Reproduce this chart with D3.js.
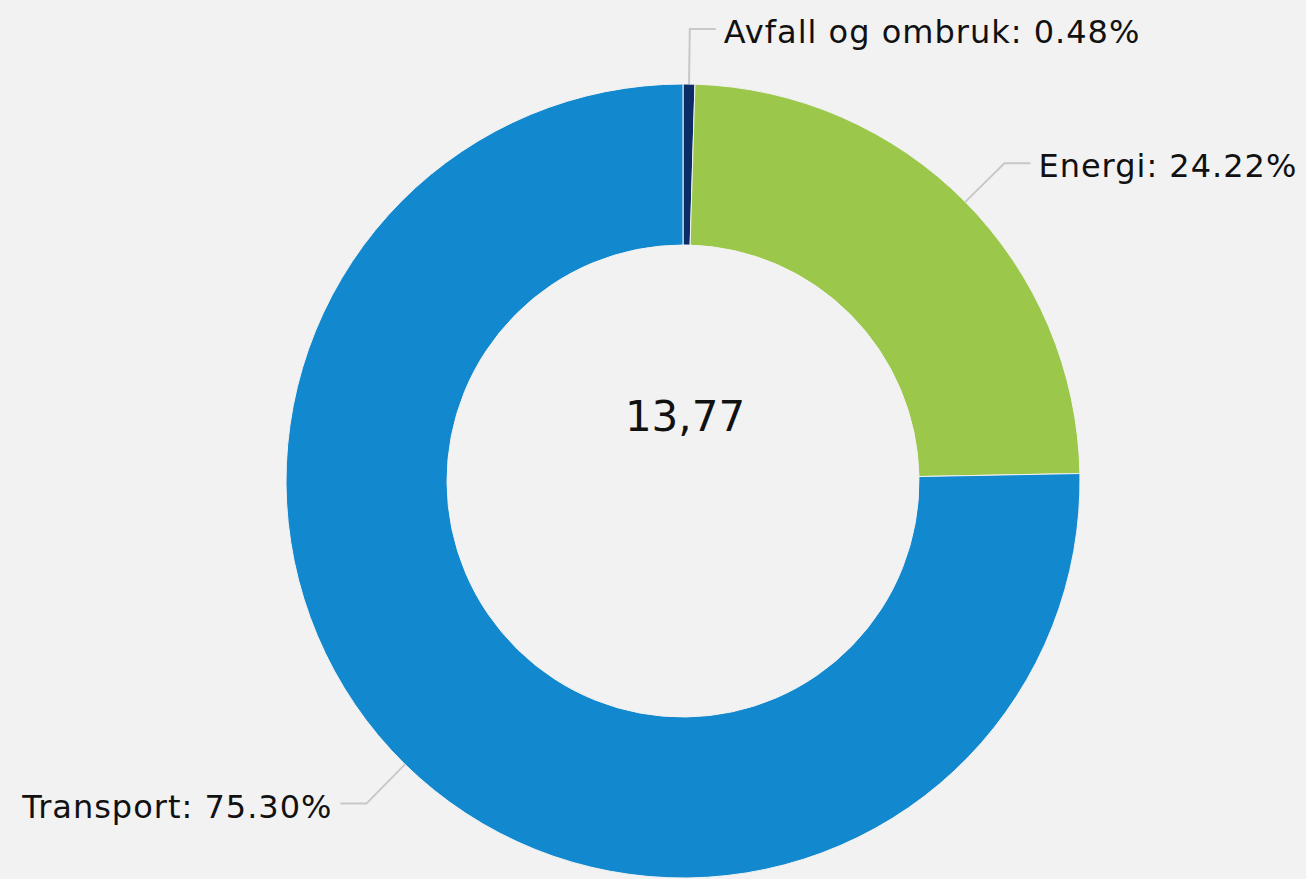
<!DOCTYPE html>
<html>
<head>
<meta charset="utf-8">
<script src="https://cdn.jsdelivr.net/npm/d3@7"></script>
<style>
  html, body { margin: 0; padding: 0; background: #f2f2f2; }
  svg { display: block; }
</style>
</head>
<body>
<script>
// data
const categories = ["Avfall og ombruk", "Energi", "Transport"];
const shares = [0.48, 24.22, 75.30];
const colors = ["#0c2c68", "#9bc84a", "#1289cf"];
const centerLabel = "13,77";

function main(){
    var width = 1306;
    var height = 879;

    const cx = 683, cy = 481;
    const outerR = 397, innerR = 236;
    const elbowR = 452;

    let svg = d3.select("body")
        .append("svg")
        .attr("width", width)
        .attr("height", height)
        .style("background", "#f2f2f2")

    const g = svg.append("g")
        .attr("transform", `translate(${cx},${cy})`)

    const data = categories.map((c, i) => ({name: c, value: shares[i], color: colors[i]}))

    let pie = d3.pie()
        .sort(null)
        .value(d => d.value)

    let arc = d3.arc()
        .innerRadius(innerR)
        .outerRadius(outerR)

    let arcs = pie(data)

    g.selectAll("path.slice")
        .data(arcs)
        .enter()
        .append("path")
        .attr("class", "slice")
        .attr("d", arc)
        .attr("fill", d => d.data.color)
        .attr("stroke", "#f2f2f2")
        .attr("stroke-width", 1)

    // leader lines + labels
    const pt = (a, r) => [r * Math.sin(a), -r * Math.cos(a)]

    arcs.forEach(function(d){
        let mid = (d.startAngle + d.endAngle) / 2
        let p0 = pt(mid, outerR)
        let p1 = pt(mid, elbowR)
        let right = Math.sin(mid) >= 0
        let p2 = [p1[0] + (right ? 26 : -26), p1[1]]

        g.append("polyline")
            .attr("fill", "none")
            .attr("stroke", "#c8c8c8")
            .attr("stroke-width", 2)
            .attr("points", [p0, p1, p2].map(p => p.join(",")).join(" "))

        g.append("text")
            .attr("x", p2[0] + (right ? 8 : -8))
            .attr("y", p1[1] + 14)
            .attr("text-anchor", right ? "start" : "end")
            .attr("font-family", "DejaVu Sans, Verdana, sans-serif")
            .attr("font-size", 32)
            .attr("letter-spacing", 1)
            .attr("fill", "#111")
            .text(d.data.name + ": " + d.data.value.toFixed(2) + "%")
    })

    g.append("text")
        .attr("x", 2)
        .attr("y", 431 - cy)
        .attr("text-anchor", "middle")
        .attr("font-family", "DejaVu Sans, Verdana, sans-serif")
        .attr("font-size", 42)
        .attr("fill", "#111")
        .text(centerLabel)
}

main()
</script>
</body>
</html>
